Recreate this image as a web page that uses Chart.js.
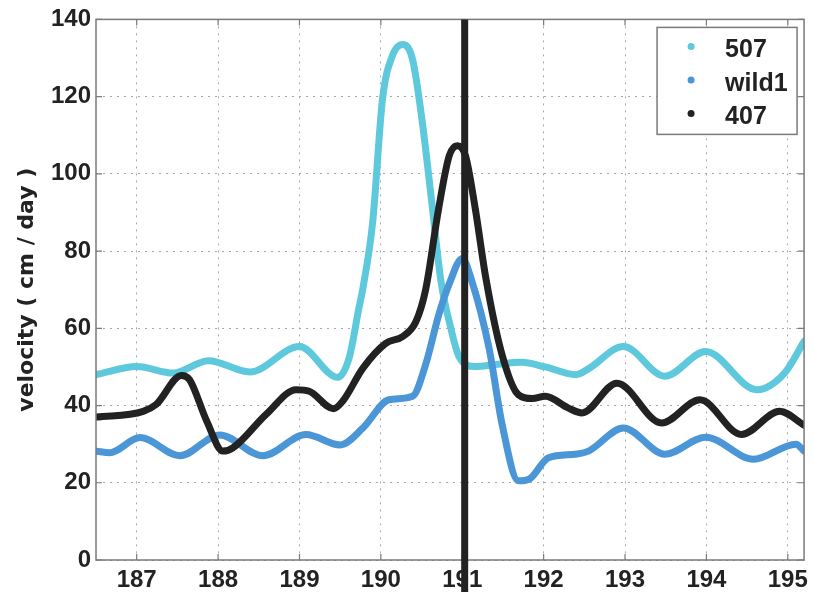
<!DOCTYPE html>
<html>
<head>
<meta charset="utf-8">
<script src="https://cdn.jsdelivr.net/npm/chart.js@4.4.1/dist/chart.umd.min.js"></script>
<style>
  html, body { margin: 0; padding: 0; background: #fff; }
  #wrap { width: 814px; height: 592px; position: relative; }
</style>
</head>
<body>
<div id="wrap"><canvas id="velChart"></canvas></div>
<script>
// ---- data (day of year, velocity cm/day) ----
const xTicks = [187, 188, 189, 190, 191, 192, 193, 194, 195];
const yTicks = [0, 20, 40, 60, 80, 100, 120, 140];
const markerDay = 191.03;

const days507 = [186.5, 187.0, 187.45, 187.88, 188.39, 189.0, 189.47, 189.61, 189.73, 189.78, 189.9, 190.02, 190.14, 190.27, 190.39, 190.51, 190.63, 190.74, 190.85, 190.96, 191.16, 191.4, 191.73, 192.02, 192.4, 192.55, 192.98, 193.49, 193.99, 194.62, 194.96, 195.2];
const vel507  = [48, 50.1, 48.4, 51.6, 48.7, 55.3, 47.3, 52.3, 65.2, 70.4, 87.6, 119.3, 130.5, 133.5, 129.6, 113.3, 91.8, 72, 60.9, 52.7, 50.1, 50.6, 51.2, 50, 48, 49.5, 55.3, 47.6, 54, 44.1, 48.4, 56.6];

const daysWild = [186.5, 186.67, 187.04, 187.53, 188.02, 188.55, 189.08, 189.5, 189.78, 190.1, 190.39, 190.55, 190.71, 190.84, 191.0, 191.12, 191.33, 191.49, 191.69, 191.82, 192.06, 192.39, 192.55, 192.98, 193.49, 193.99, 194.58, 195.1, 195.2];
const velWild  = [28.2, 27.8, 31.7, 27, 32.4, 27, 32.5, 29.8, 34.2, 41.5, 42.4, 50.6, 63.4, 71.5, 78.1, 72.1, 54.8, 35.1, 20.5, 20.9, 26.5, 27.4, 28.2, 34.2, 27.4, 31.8, 26.1, 30, 28.2];

const days407 = [186.5, 187.08, 187.24, 187.55, 187.65, 187.86, 188.06, 188.18, 188.59, 188.96, 189.12, 189.42, 189.53, 189.78, 190.06, 190.27, 190.43, 190.55, 190.71, 190.84, 190.94, 191.04, 191.16, 191.29, 191.49, 191.69, 191.86, 192.02, 192.3, 192.47, 192.9, 193.45, 193.92, 194.43, 194.9, 195.2];
const vel407  = [37, 38.5, 40.3, 47.8, 46.7, 36, 28.2, 29, 37.7, 44.1, 43.7, 39.2, 41.1, 49.7, 56.1, 57.9, 61.7, 70, 91, 104.7, 107.3, 104.7, 91, 73, 53.1, 42.8, 41.8, 42.4, 39.4, 38.1, 45.8, 35.5, 41.5, 32.5, 38.5, 34.9];

const toPoints = (xs, ys) => xs.map((x, i) => ({ x: x, y: ys[i] }));

const FONT = '"Liberation Sans", Arial, Helvetica, sans-serif';
const INK = '#222';

// box, inner ticks, black marker line and legend
const framePlugin = {
  id: 'frame',
  afterDraw(chart) {
    const c = chart.ctx, a = chart.chartArea;
    const xs = chart.scales.x, ys = chart.scales.y;
    c.save();
    c.strokeStyle = '#7a7a7a';
    c.lineWidth = 1.5;
    c.strokeRect(a.left, a.top, a.right - a.left, a.bottom - a.top);
    c.lineWidth = 1.2;
    c.beginPath();
    xTicks.forEach(v => {
      const px = xs.getPixelForValue(v);
      c.moveTo(px, a.bottom); c.lineTo(px, a.bottom - 6);
      c.moveTo(px, a.top); c.lineTo(px, a.top + 6);
    });
    yTicks.forEach(v => {
      const py = ys.getPixelForValue(v);
      c.moveTo(a.left, py); c.lineTo(a.left + 6, py);
      c.moveTo(a.right, py); c.lineTo(a.right - 6, py);
    });
    c.stroke();

    // vertical marker, runs down past the axis
    const mx = xs.getPixelForValue(markerDay);
    c.strokeStyle = INK;
    c.lineWidth = 7;
    c.beginPath();
    c.moveTo(mx, a.top);
    c.lineTo(mx, chart.height);
    c.stroke();

    // legend box in the top right corner
    const bw = 140, bh = 107;
    const bx = a.right - 7 - bw, by = a.top + 8;
    c.fillStyle = '#fff';
    c.fillRect(bx, by, bw, bh);
    c.strokeStyle = '#7a7a7a';
    c.lineWidth = 1.5;
    c.strokeRect(bx, by, bw, bh);
    c.font = 'bold 25px ' + FONT;
    c.textBaseline = 'middle';
    chart.data.datasets.forEach((ds, i) => {
      const cy = by + 19 + i * 33.5;
      c.fillStyle = ds.borderColor;
      c.beginPath();
      c.arc(bx + 34, cy, 3.5, 0, Math.PI * 2);
      c.fill();
      c.fillStyle = INK;
      c.fillText(ds.label, bx + 68, cy + 4);
    });
    c.restore();
  }
};

new Chart(document.getElementById('velChart'), {
  type: 'line',
  data: {
    datasets: [
      { label: '507', data: toPoints(days507, vel507), borderColor: '#5ec8dc', order: 2 },
      { label: 'wild1', data: toPoints(daysWild, velWild), borderColor: '#4a96d7', order: 1 },
      { label: '407', data: toPoints(days407, vel407), borderColor: '#222222', order: 0 }
    ]
  },
  options: {
    responsive: true,
    maintainAspectRatio: false,
    animation: false,
    elements: {
      line: { borderWidth: 7, cubicInterpolationMode: 'monotone', fill: false, borderCapStyle: 'round', borderJoinStyle: 'round' },
      point: { radius: 0 }
    },
    layout: { padding: { top: 19, right: 8, left: 0, bottom: 0 } },
    scales: {
      x: {
        type: 'linear',
        min: 186.5,
        max: 195.2,
        afterBuildTicks: s => { s.ticks = xTicks.map(v => ({ value: v })); },
        afterFit: s => { s.height = 32; },
        grid: { color: '#a8a8a8', lineWidth: 1, drawTicks: false },
        border: { display: false, dash: [2, 5] },
        ticks: { font: { family: FONT, size: 24, weight: 'bold' }, color: INK, padding: 6, maxRotation: 0 }
      },
      y: {
        min: 0,
        max: 140,
        afterBuildTicks: s => { s.ticks = yTicks.map(v => ({ value: v })); },
        afterFit: s => { s.width = 96; },
        grid: { color: '#a8a8a8', lineWidth: 1, drawTicks: false },
        border: { display: false, dash: [2, 5] },
        ticks: { font: { family: FONT, size: 24, weight: 'bold' }, color: INK, padding: 5 },
        title: {
          display: true,
          text: 'velocity ( cm / day )',
          font: { family: '"DejaVu Sans", sans-serif', size: 22, weight: 'bold' },
          color: INK,
          padding: { top: 14, bottom: 0 }
        }
      }
    },
    plugins: {
      legend: { display: false },
      tooltip: { enabled: false }
    }
  },
  plugins: [framePlugin]
});
</script>
</body>
</html>
